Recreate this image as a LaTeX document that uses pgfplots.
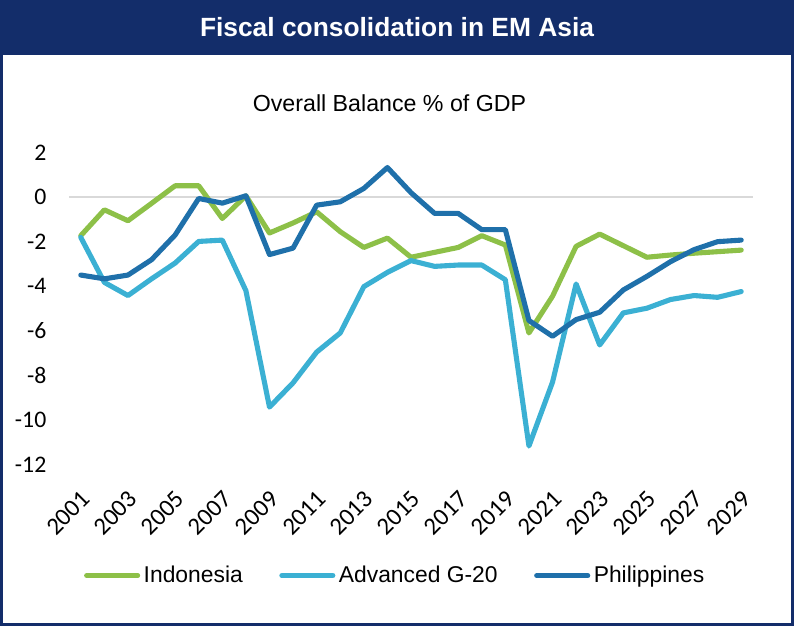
\documentclass[border=0pt]{standalone}
\usepackage{pgfplots}
\usepackage{pgfplotstable}
\pgfplotsset{compat=1.18}
\usepackage{fontspec}
\setmainfont{Liberation Sans}
\newfontfamily\calibri{Carlito}

\definecolor{navy}{HTML}{132D6A}
\definecolor{cgreen}{HTML}{8DC048}
\definecolor{clight}{HTML}{3BB0D3}
\definecolor{cdark}{HTML}{1F70AA}
\definecolor{gridgray}{HTML}{D9D9D9}

% overall balance, % of GDP
\pgfplotstableread{
year  idn    g20     phl
2001  -1.73  -1.81   -3.50
2002  -0.57  -3.83   -3.67
2003  -1.06  -4.42   -3.50
2004  -0.28  -3.67   -2.81
2005   0.51  -2.96   -1.70
2006   0.51  -1.99   -0.06
2007  -0.96  -1.93   -0.27
2008   0.06  -4.20    0.06
2009  -1.61  -9.43   -2.58
2010  -1.16  -8.34   -2.29
2011  -0.66  -6.96   -0.36
2012  -1.55  -6.10   -0.21
2013  -2.26  -4.02    0.39
2014  -1.84  -3.38    1.33
2015  -2.70  -2.85    0.20
2016  -2.48  -3.11   -0.73
2017  -2.26  -3.05   -0.73
2018  -1.73  -3.05   -1.46
2019  -2.15  -3.71   -1.46
2020  -6.10  -11.18  -5.54
2021  -4.45  -8.31   -6.25
2022  -2.21  -3.90   -5.50
2023  -1.66  -6.64   -5.17
2024  -2.18  -5.20   -4.17
2025  -2.70  -4.99   -3.56
2026  -2.60  -4.60   -2.90
2027  -2.52  -4.42   -2.36
2028  -2.45  -4.50   -2.00
2029  -2.38  -4.24   -1.93
}\datatable

\begin{document}
\begin{tikzpicture}
\useasboundingbox (0,0) rectangle (15.88,12.52);
% frame and title banner
\fill[navy] (0,11.42) rectangle (15.88,12.52);
\draw[navy, line width=0.06cm] (0.03,0.03) rectangle (15.85,12.49);
\node[text=white, font=\fontsize{15}{18}\selectfont\bfseries] at (7.94,11.98) {Fiscal consolidation in EM Asia};
\node[font=\fontsize{13.2}{16}\selectfont] at (7.79,10.46) {Overall Balance \% of GDP};

\begin{axis}[
    at={(1.38cm,3.234cm)}, anchor=south west,
    scale only axis,
    width=13.68cm, height=6.234cm,
    xmin=2000.5, xmax=2029.5,
    ymin=-12, ymax=2,
    clip=false,
    axis line style={draw=none},
    major tick length=0pt,
    ytick={-12,-10,...,2},
    yticklabels={-12,-10,-8,-6,-4,-2,0,2},
    yticklabel style={font=\calibri\fontsize{13.5}{16}\selectfont, xshift=-0.33cm},
    xtick={2001,2003,...,2029},
    xticklabels={2001,2003,2005,2007,2009,2011,2013,2015,2017,2019,2021,2023,2025,2027,2029},
    % shifts act in the rotated frame
    xticklabel style={font=\calibri\fontsize{14}{16}\selectfont, rotate=45, anchor=east, inner sep=0pt, xshift=-0.36cm, yshift=-0.51cm},
    extra y ticks={0},
    extra y tick labels={},
    extra y tick style={grid=major, major grid style={draw=gridgray, line width=1pt}},
    legend columns=3,
    legend style={at={(axis description cs:0.478,-0.357)}, anchor=center,
        draw=none, fill=none, font=\fontsize{13}{15}\selectfont,
        /tikz/every even column/.append style={column sep=0.66cm}},
    legend image code/.code={\draw[#1, line width=2.9pt, line cap=round] (0cm,0cm) -- (1.02cm,0cm);},
    every axis plot/.append style={line width=2.9pt, line join=round, line cap=round, mark=none},
]
\addplot[cgreen] table[x=year, y=idn] {\datatable};
\addplot[clight] table[x=year, y=g20] {\datatable};
\addplot[cdark] table[x=year, y=phl] {\datatable};
\legend{Indonesia, Advanced G-20, Philippines}
\end{axis}
\end{tikzpicture}
\end{document}
